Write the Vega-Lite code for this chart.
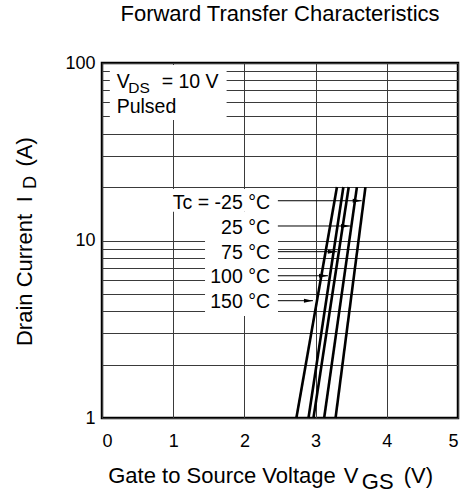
{
  "$schema": "https://vega.github.io/schema/vega-lite/v6.json",
  "width": 356,
  "height": 355,
  "autosize": {"type": "none"},
  "padding": {"left": 102, "top": 63, "right": 12, "bottom": 77},
  "background": "white",
  "config": {
    "font": "Liberation Sans, Arial, Helvetica, sans-serif",
    "view": {"stroke": "black", "strokeWidth": 2.5},
    "axis": {
      "grid": true,
      "gridColor": "#3a3a3a",
      "gridWidth": 1,
      "gridOpacity": 1,
      "ticks": false,
      "domain": false,
      "labelColor": "black",
      "labelFontSize": 18,
      "labelFont": "Liberation Sans, Arial, sans-serif",
      "title": null
    },
    "text": {"font": "Liberation Sans, Arial, sans-serif", "color": "black"}
  },
  "title": {
    "text": "Forward Transfer Characteristics",
    "fontSize": 22,
    "fontWeight": "normal",
    "font": "Liberation Sans, Arial, sans-serif",
    "color": "black",
    "baseline": "alphabetic",
    "offset": 11
  },
  "datasets": {
    "curves": [
      {"temp": "150 °C", "vgs": 2.73, "id": 1},
      {"temp": "150 °C", "vgs": 3.30, "id": 20},
      {"temp": "100 °C", "vgs": 2.90, "id": 1},
      {"temp": "100 °C", "vgs": 3.39, "id": 20},
      {"temp": "75 °C", "vgs": 2.97, "id": 1},
      {"temp": "75 °C", "vgs": 3.465, "id": 20},
      {"temp": "25 °C", "vgs": 3.12, "id": 1},
      {"temp": "25 °C", "vgs": 3.58, "id": 20},
      {"temp": "-25 °C", "vgs": 3.28, "id": 1},
      {"temp": "-25 °C", "vgs": 3.70, "id": 20}
    ],
    "arrows": [
      {"temp": "-25 °C", "vgs": 2.47, "vgs2": 3.647, "id": 16.75},
      {"temp": "25 °C", "vgs": 2.47, "vgs2": 3.483, "id": 12.07},
      {"temp": "75 °C", "vgs": 2.47, "vgs2": 3.298, "id": 8.65},
      {"temp": "100 °C", "vgs": 2.47, "vgs2": 3.174, "id": 6.33},
      {"temp": "150 °C", "vgs": 2.47, "vgs2": 2.963, "id": 4.58}
    ],
    "labels": [
      {"label": "Tc = -25 °C", "vgs": 2.36, "id": 15.0},
      {"label": "25 °C", "vgs": 2.36, "id": 10.88},
      {"label": "75 °C", "vgs": 2.36, "id": 7.87},
      {"label": "100 °C", "vgs": 2.36, "id": 5.74},
      {"label": "150 °C", "vgs": 2.36, "id": 4.15}
    ],
    "notes": [
      {"label": "V", "vgs": 0.206, "id": 72.6},
      {"label": "= 10 V", "vgs": 0.838, "id": 72.6},
      {"label": "Pulsed", "vgs": 0.206, "id": 52.3}
    ],
    "notesub": [
      {"label": "DS", "vgs": 0.37, "id": 67.8}
    ],
    "xtitle": [
      {"label": "Gate to Source Voltage", "vgs": 1.685, "id": 0.4285},
      {"label": "V", "vgs": 3.497, "id": 0.4285},
      {"label": "GS", "vgs": 3.872, "id": 0.3966},
      {"label": "(V)", "vgs": 4.443, "id": 0.4285}
    ],
    "ytitle": [
      {"label": "Drain Current", "vgs": -0.98, "id": 5.99},
      {"label": "I", "vgs": -0.98, "id": 17.1},
      {"label": "(A)", "vgs": -0.98, "id": 31.6}
    ],
    "ytitlesub": [
      {"label": "D", "vgs": -0.92, "id": 21.2}
    ],
    "boxes": [
      {"vgs": 0.11, "vgs2": 1.75, "id": 47.7, "id2": 97.5},
      {"vgs": 0.885, "vgs2": 2.472, "id": 14.5, "id2": 19.5},
      {"vgs": 1.447, "vgs2": 2.472, "id": 3.76, "id2": 14.5}
    ]
  },
  "encoding": {
    "x": {
      "field": "vgs",
      "type": "quantitative",
      "scale": {"domain": [0, 5], "nice": false, "zero": false},
      "axis": {"values": [0, 1, 2, 3, 4, 5], "labelPadding": 14, "title": null}
    },
    "y": {
      "field": "id",
      "type": "quantitative",
      "scale": {"type": "log", "domain": [1, 100], "nice": false},
      "axis": {
        "values": [1, 2, 3, 4, 5, 6, 7, 8, 9, 10, 20, 30, 40, 50, 60, 70, 80, 90, 100],
        "labelExpr": "(datum.value == 1 || datum.value == 10 || datum.value == 100) ? ('' + datum.value) : ''",
        "labelPadding": 7,
        "title": null
      }
    }
  },
  "layer": [
    {
      "data": {"name": "boxes"},
      "mark": {"type": "rect", "fill": "white", "strokeWidth": 0},
      "encoding": {
        "x2": {"field": "vgs2"},
        "y2": {"field": "id2"}
      }
    },
    {
      "data": {"name": "curves"},
      "mark": {"type": "line", "color": "black", "strokeWidth": 2.6},
      "encoding": {
        "detail": {"field": "temp", "type": "nominal"}
      }
    },
    {
      "data": {"name": "arrows"},
      "mark": {"type": "rule", "color": "black", "strokeWidth": 1},
      "encoding": {
        "x2": {"field": "vgs2"}
      }
    },
    {
      "data": {"name": "arrows"},
      "mark": {"type": "point", "shape": "M-2,-0.45L0,0L-2,0.45Z", "filled": true, "color": "black", "size": 81, "opacity": 1},
      "encoding": {
        "x": {"field": "vgs2", "type": "quantitative"}
      }
    },
    {
      "data": {"name": "labels"},
      "mark": {"type": "text", "align": "right", "baseline": "alphabetic", "fontSize": 19.5},
      "encoding": {"text": {"field": "label"}}
    },
    {
      "data": {"name": "notes"},
      "mark": {"type": "text", "align": "left", "baseline": "alphabetic", "fontSize": 19.5},
      "encoding": {"text": {"field": "label"}}
    },
    {
      "data": {"name": "notesub"},
      "mark": {"type": "text", "align": "left", "baseline": "alphabetic", "fontSize": 15.5},
      "encoding": {"text": {"field": "label"}}
    },
    {
      "data": {"name": "xtitle"},
      "mark": {"type": "text", "align": "center", "baseline": "alphabetic", "fontSize": 22},
      "encoding": {"text": {"field": "label"}}
    },
    {
      "data": {"name": "ytitle"},
      "mark": {"type": "text", "align": "center", "baseline": "alphabetic", "fontSize": 22, "angle": 270},
      "encoding": {"text": {"field": "label"}}
    },
    {
      "data": {"name": "ytitlesub"},
      "mark": {"type": "text", "align": "center", "baseline": "alphabetic", "fontSize": 18, "angle": 270},
      "encoding": {"text": {"field": "label"}}
    }
  ]
}
